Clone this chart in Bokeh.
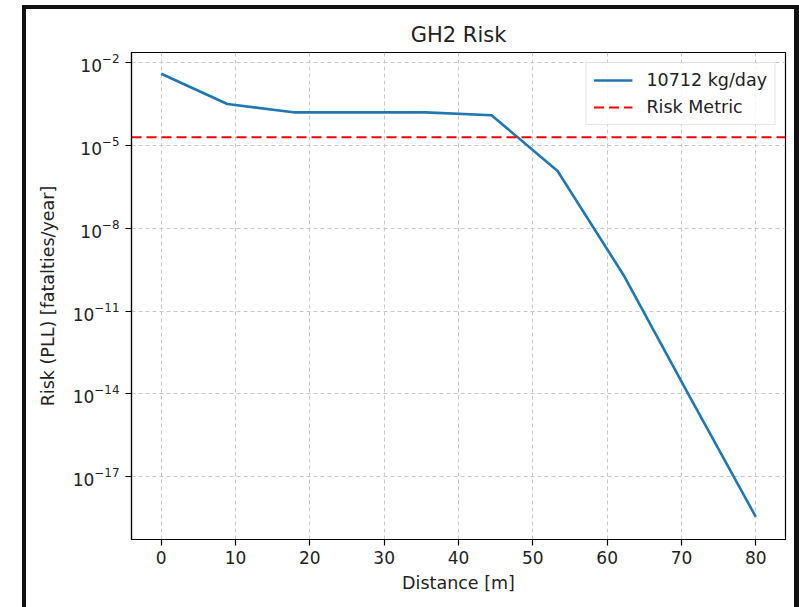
from bokeh.plotting import figure
from bokeh.models import Range1d, FixedTicker, Legend, LegendItem
from bokeh.embed import file_html
from bokeh.resources import INLINE

# ---- data ----
distance = [0, 8.89, 17.78, 26.67, 35.56, 44.44, 53.33, 62.22, 71.11, 80]
risk = [4.0e-3, 3.2e-4, 1.6e-4, 1.6e-4, 1.6e-4, 1.26e-4, 1.2e-6, 2.0e-10, 8.0e-15, 3.5e-19]
risk_metric = 2e-5
series_label = "10712 kg/day"
metric_label = "Risk Metric"
x_ticks = [0, 10, 20, 30, 40, 50, 60, 70, 80]
y_ticks = [1e-2, 1e-5, 1e-8, 1e-11, 1e-14, 1e-17]
x_lo, x_hi = -4, 84
y_lo, y_hi = 10 ** -19.28, 10 ** -1.627

FONT = "DejaVu Sans"
TXT = "#222222"

p = figure(width=777, height=602, y_axis_type="log",
           x_range=Range1d(x_lo, x_hi), y_range=Range1d(y_lo, y_hi),
           output_backend="svg", toolbar_location=None,
           min_border_left=105, min_border_right=18,
           min_border_top=43, min_border_bottom=72,
           title="GH2 Risk")

# outer black frame of the picture (left, top, right edges)
p.styles = {"border-left": "4px solid #111111",
            "border-top": "4px solid #111111",
            "border-right": "5px solid #111111",
            "overflow": "hidden"}
p.margin = (5, 0, 0, 22)

p.background_fill_color = "white"
p.border_fill_color = "white"
p.outline_line_color = "black"
p.outline_line_width = 1.2

p.title.align = "center"
p.title.text_font = FONT
p.title.text_font_size = "21px"
p.title.text_font_style = "normal"
p.title.text_color = TXT
p.title.standoff = 11

# axes
p.xaxis.ticker = FixedTicker(ticks=x_ticks, minor_ticks=[])
p.yaxis.ticker = FixedTicker(ticks=y_ticks, minor_ticks=[])
for ax in (p.xaxis, p.yaxis):
    ax.axis_line_color = "black"
    ax.axis_line_width = 1.2
    ax.major_tick_line_color = "black"
    ax.major_tick_line_width = 1.2
    ax.major_tick_out = 6
    ax.major_tick_in = 0
    ax.minor_tick_out = 0
    ax.minor_tick_in = 0
    ax.major_label_text_font = FONT
    ax.major_label_text_font_size = "17px"
    ax.major_label_text_color = TXT
    ax.axis_label_text_font = FONT
    ax.axis_label_text_font_size = "17.5px"
    ax.axis_label_text_font_style = "normal"
    ax.axis_label_text_color = TXT
p.xaxis.axis_label = "Distance [m]"
p.yaxis.axis_label = "Risk (PLL) [fatalties/year]"
p.xaxis.major_label_standoff = 5
p.yaxis.major_label_standoff = 6
p.xaxis.axis_label_standoff = 6
p.yaxis.axis_label_standoff = 12

# grid
for g in (p.xgrid, p.ygrid):
    g.grid_line_color = "#c8c8c8"
    g.grid_line_dash = "4 3"
    g.grid_line_width = 1

# data
r1 = p.line(distance, risk, line_color="#1f77b4", line_width=2.6)
r2 = p.line([x_lo, x_hi], [risk_metric, risk_metric], line_color="red",
            line_width=2.2, line_dash="10 5")

legend = Legend(items=[LegendItem(label=series_label, renderers=[r1]),
                       LegendItem(label=metric_label, renderers=[r2])],
                location="top_right")
legend.margin = 10
legend.padding = 7
legend.spacing = 7
legend.glyph_width = 39
legend.glyph_height = 20
legend.label_height = 20
legend.label_standoff = 14
legend.label_text_font = FONT
legend.label_text_font_size = "17.5px"
legend.label_text_color = TXT
legend.border_line_color = "#cccccc"
legend.border_line_width = 1
legend.background_fill_color = "white"
legend.background_fill_alpha = 0.85
p.add_layout(legend)

open("out.html", "w").write(file_html(p, INLINE))
